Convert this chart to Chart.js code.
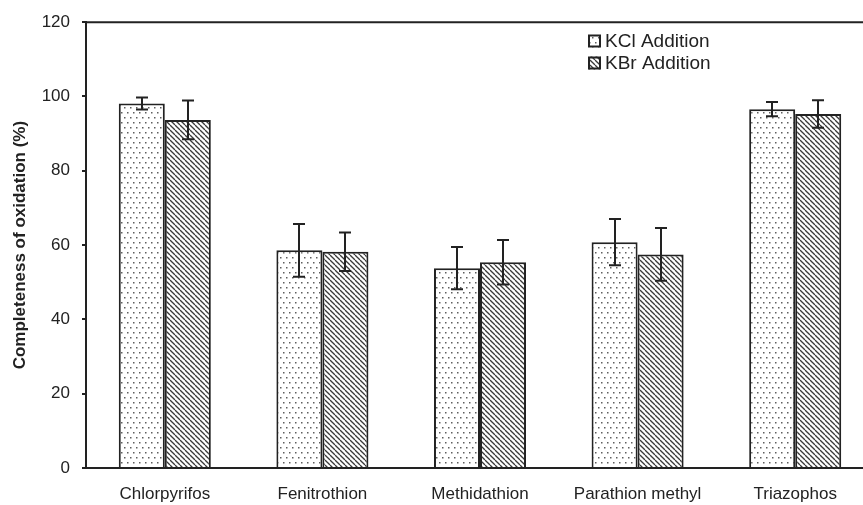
<!DOCTYPE html>
<html>
<head>
<meta charset="utf-8">
<script src="https://cdn.jsdelivr.net/npm/chart.js@4.4.1/dist/chart.umd.min.js"></script>
<style>
  html, body { margin: 0; padding: 0; background: #fff; overflow: hidden; }
  #wrap { width: 874px; height: 505px; }
</style>
</head>
<body>
<div id="wrap"><canvas id="c" width="874" height="505"></canvas></div>
<script>
// Pesticides tested
const categories = ['Chlorpyrifos', 'Fenitrothion', 'Methidathion', 'Parathion methyl', 'Triazophos'];
// Completeness of oxidation (%) and standard deviations
const kclValues = [98.1, 58.6, 53.8, 60.8, 96.6];
const kclErrors = [1.6, 7.1, 5.7, 6.2, 1.9];
const kbrValues = [93.7, 58.2, 55.4, 57.5, 95.3];
const kbrErrors = [5.2, 5.2, 6.0, 7.1, 3.7];
const seriesNames = ['KCl Addition', 'KBr Addition'];
const yTicks = [0, 20, 40, 60, 80, 100, 120];

const INK = '#222';
const FONT = '"Liberation Sans", Arial, sans-serif';

// Fill patterns: stippled dots and backslash hatching
function dotPattern() {
  const t = document.createElement('canvas');
  t.width = 12; t.height = 10;
  const g = t.getContext('2d');
  g.fillStyle = '#fff'; g.fillRect(0, 0, 12, 10);
  g.fillStyle = '#5e5e5e';
  [[1, 2], [7, 2], [4, 7], [10, 7]].forEach(([x, y]) => g.fillRect(x, y, 1.5, 1.5));
  return g.createPattern(t, 'repeat');
}
function hatchPattern() {
  const s = 5;
  const t = document.createElement('canvas');
  t.width = s; t.height = s;
  const g = t.getContext('2d');
  g.fillStyle = '#fff'; g.fillRect(0, 0, s, s);
  g.strokeStyle = '#3a3a3a'; g.lineWidth = 1.3;
  for (let k = -1; k <= 1; k++) {
    g.beginPath(); g.moveTo(k * s, 0); g.lineTo(k * s + s, s); g.stroke();
  }
  return g.createPattern(t, 'repeat');
}
const fills = [dotPattern(), hatchPattern()];
const errorSets = [kclErrors, kbrErrors];

// Error bars with caps
const errorBars = {
  id: 'errorBars',
  afterDatasetsDraw(chart) {
    const ctx = chart.ctx, y = chart.scales.y;
    ctx.save();
    ctx.strokeStyle = INK; ctx.lineWidth = 2;
    chart.data.datasets.forEach((ds, di) => {
      chart.getDatasetMeta(di).data.forEach((bar, i) => {
        const v = ds.data[i], e = errorSets[di][i];
        const top = y.getPixelForValue(v + e), bot = y.getPixelForValue(v - e);
        const x = Math.round(bar.x), cap = 6;
        ctx.beginPath();
        ctx.moveTo(x, top); ctx.lineTo(x, bot);
        ctx.moveTo(x - cap, top); ctx.lineTo(x + cap, top);
        ctx.moveTo(x - cap, bot); ctx.lineTo(x + cap, bot);
        ctx.stroke();
      });
    });
    ctx.restore();
  }
};

// Top frame line and legend
const frameAndLegend = {
  id: 'frameAndLegend',
  afterDraw(chart) {
    const ctx = chart.ctx, a = chart.chartArea;
    ctx.save();
    ctx.strokeStyle = INK; ctx.lineWidth = 2;
    ctx.beginPath(); ctx.moveTo(a.left - 1, a.top); ctx.lineTo(a.right, a.top); ctx.stroke();
    const lx = 588, rows = [41, 63], box = 13;
    ctx.font = '19px ' + FONT; ctx.textBaseline = 'middle'; ctx.textAlign = 'left';
    seriesNames.forEach((name, i) => {
      const cy = rows[i];
      ctx.fillStyle = fills[i];
      ctx.fillRect(lx, cy - box / 2, box, box);
      ctx.lineWidth = 2; ctx.strokeStyle = INK;
      ctx.strokeRect(lx + 1, cy - box / 2 + 1, box - 2, box - 2);
      ctx.fillStyle = INK;
      ctx.fillText(name, lx + 17, cy + 1);
    });
    ctx.restore();
  }
};

new Chart(document.getElementById('c'), {
  type: 'bar',
  data: {
    labels: categories,
    datasets: [
      { label: seriesNames[0], data: kclValues, backgroundColor: fills[0], borderColor: INK, borderWidth: 2 },
      { label: seriesNames[1], data: kbrValues, backgroundColor: fills[1], borderColor: INK, borderWidth: 2 }
    ]
  },
  options: {
    responsive: false,
    animation: false,
    devicePixelRatio: 1,
    layout: { padding: { top: 20, right: 0, left: 0, bottom: 0 } },
    datasets: { bar: { barPercentage: 1, categoryPercentage: 0.584 } },
    plugins: { legend: { display: false }, tooltip: { enabled: false } },
    scales: {
      x: {
        grid: { display: false, drawTicks: false, tickLength: 0 },
        border: { display: true, color: INK, width: 2 },
        ticks: { color: INK, font: { family: FONT, size: 17 }, padding: 16, maxRotation: 0 },
        afterFit(s) { s.height = 37; }
      },
      y: {
        min: 0, max: 120,
        afterBuildTicks(s) { s.ticks = yTicks.map(v => ({ value: v })); },
        grid: { drawOnChartArea: false, tickLength: 4, color: INK, lineWidth: 2 },
        border: { display: true, color: INK, width: 2 },
        ticks: { color: INK, font: { family: FONT, size: 17 }, padding: 12 },
        title: {
          display: true, text: 'Completeness of oxidation (%)', color: INK,
          font: { family: FONT, size: 17, weight: 'bold' }, padding: { top: 10, bottom: 0 }
        },
        afterFit(s) { s.width = 86; }
      }
    }
  },
  plugins: [errorBars, frameAndLegend]
});
</script>
</body>
</html>
